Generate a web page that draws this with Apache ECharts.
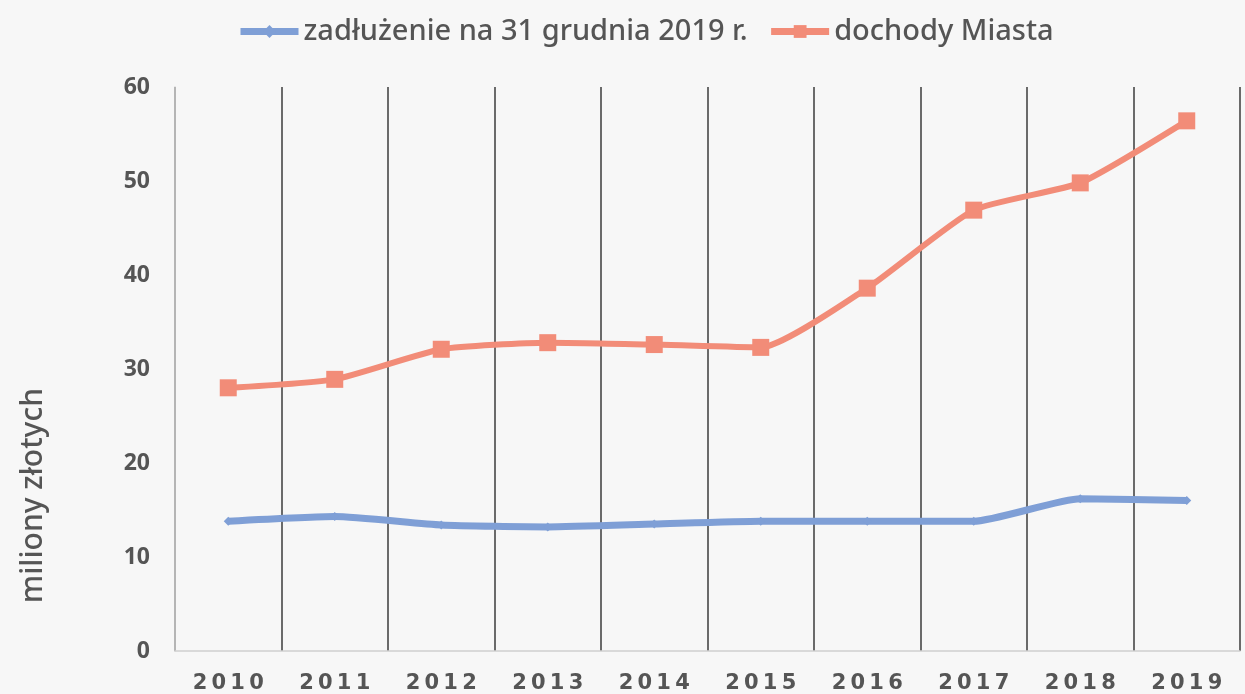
<!DOCTYPE html>
<html>
<head>
<meta charset="utf-8">
<script src="https://cdn.jsdelivr.net/npm/echarts@6/dist/echarts.min.js"></script>
<style>
  html, body { margin: 0; padding: 0; background: #f7f7f7; }
  #chart { width: 1245px; height: 694px; }
</style>
</head>
<body>
<div id="chart"></div>
<script>
// data
const years = ['2010', '2011', '2012', '2013', '2014', '2015', '2016', '2017', '2018', '2019'];
const zadluzenie = [13.8, 14.3, 13.4, 13.2, 13.5, 13.8, 13.8, 13.8, 16.2, 16.0];
const dochody = [28.0, 28.9, 32.1, 32.8, 32.6, 32.3, 38.6, 46.9, 49.8, 56.4];
const yTicks = [0, 10, 20, 30, 40, 50, 60];

const chartDom = document.getElementById('chart');
const myChart = echarts.init(chartDom);
let option;

option = {
  backgroundColor: '#f7f7f7',
  animation: false,
  legend: {
    top: 12,
    left: 232,
    itemWidth: 58,
    itemHeight: 16,
    itemGap: 20,
    textStyle: {
      fontFamily: '"Noto Sans", sans-serif',
      fontWeight: 500,
      fontSize: 29,
      color: '#555'
    },
    data: [
      { name: 'zadłużenie na 31 grudnia 2019 r.', lineStyle: { width: 7 } },
      { name: 'dochody Miasta', lineStyle: { width: 7 } }
    ]
  },
  grid: {
    left: 175,
    right: 5,
    top: 87,
    bottom: 40
  },
  xAxis: {
    type: 'category',
    data: years,
    boundaryGap: true,
    axisLine: { lineStyle: { color: '#cfcfcf', width: 1.5 } },
    axisTick: { show: false },
    splitLine: { show: true, lineStyle: { color: '#6a6a6a', width: 2 } },
    axisLabel: {
      margin: 22,
      color: '#555',
      fontFamily: '"DejaVu Sans", sans-serif',
      fontWeight: 'bold',
      fontSize: 21,
      formatter: function (v) { return v.split('').join('\u2009'); }
    }
  },
  yAxis: {
    type: 'value',
    min: yTicks[0],
    max: yTicks[yTicks.length - 1],
    interval: 10,
    axisLine: { show: true, lineStyle: { color: '#cfcfcf', width: 1.5 } },
    axisTick: { show: false },
    splitLine: { show: false },
    axisLabel: {
      margin: 25,
      color: '#555',
      fontFamily: '"Open Sans", sans-serif',
      fontWeight: 'bold',
      fontSize: 23
    }
  },
  graphic: [{
    type: 'text',
    left: 18,
    top: 388,
    rotation: Math.PI / 2,
    style: {
      text: 'miliony złotych',
      fill: '#555',
      font: '500 30px "Noto Sans", sans-serif'
    }
  }],
  series: [
    {
      name: 'zadłużenie na 31 grudnia 2019 r.',
      type: 'line',
      data: zadluzenie,
      smooth: 0.18,
      symbol: 'diamond',
      symbolSize: 9,
      itemStyle: { color: '#7f9fd6' },
      lineStyle: { color: '#7f9fd6', width: 7 }
    },
    {
      name: 'dochody Miasta',
      type: 'line',
      data: dochody,
      smooth: 0.18,
      symbol: 'rect',
      symbolSize: 17,
      itemStyle: { color: '#f28c78' },
      lineStyle: { color: '#f28c78', width: 6 }
    }
  ]
};

option && myChart.setOption(option);
</script>
</body>
</html>
